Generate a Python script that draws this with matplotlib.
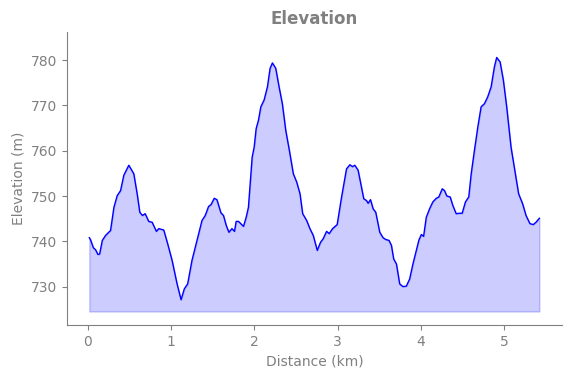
import matplotlib
matplotlib.use("Agg")
import matplotlib.pyplot as plt
import numpy as np

# distance along the route (km) and elevation (m)
distance_km = [
    0.02, 0.036, 0.068, 0.096, 0.123, 0.144, 0.176, 0.215, 0.275, 0.315,
    0.355, 0.395, 0.434, 0.494, 0.554, 0.594, 0.626, 0.658, 0.690, 0.733,
    0.774, 0.825, 0.853, 0.913, 0.961, 1.013, 1.073, 1.121, 1.160, 1.200,
    1.252, 1.312, 1.372, 1.411, 1.451, 1.480, 1.519, 1.551, 1.599, 1.630,
    1.663, 1.695, 1.731, 1.762, 1.782, 1.810, 1.870, 1.902, 1.929, 1.950,
    1.974, 1.998, 2.022, 2.049, 2.078, 2.117, 2.157, 2.189, 2.217, 2.257,
    2.297, 2.336, 2.377, 2.420, 2.468, 2.508, 2.548, 2.580, 2.628, 2.667,
    2.707, 2.755, 2.795, 2.827, 2.867, 2.898, 2.939, 2.994, 3.047, 3.106,
    3.146, 3.178, 3.206, 3.245, 3.278, 3.313, 3.346, 3.365, 3.394, 3.425,
    3.457, 3.505, 3.544, 3.577, 3.616, 3.645, 3.672, 3.705, 3.744, 3.783,
    3.824, 3.864, 3.903, 3.944, 3.975, 4.004, 4.031, 4.063, 4.103, 4.142,
    4.183, 4.214, 4.255, 4.282, 4.310, 4.350, 4.382, 4.422, 4.462, 4.494,
    4.533, 4.573, 4.602, 4.641, 4.681, 4.721, 4.761, 4.800, 4.841, 4.880,
    4.908, 4.949, 4.988, 5.028, 5.080, 5.132, 5.171, 5.219, 5.260, 5.307,
    5.347, 5.379, 5.42,
]
elevation_m = [
    740.8, 740.3, 738.6, 738.1, 737.1, 737.2, 740.2, 741.3, 742.4, 747.5,
    750.1, 751.2, 754.6, 756.8, 754.9, 750.5, 746.4, 745.7, 746.1, 744.4,
    744.2, 742.2, 742.8, 742.5, 739.4, 735.8, 730.6, 727.1, 729.5, 730.6,
    735.8, 740.2, 744.6, 745.7, 747.7, 748.1, 749.5, 749.2, 746.3, 745.7,
    743.5, 742.0, 742.8, 742.2, 744.4, 744.4, 743.3, 745.3, 747.5, 752.7,
    758.6, 760.8, 764.9, 766.7, 769.7, 771.2, 774.1, 778.2, 779.4, 778.2,
    774.1, 770.4, 764.5, 760.1, 754.9, 753.1, 750.5, 746.1, 744.6, 742.8,
    741.3, 738.0, 739.8, 740.6, 742.2, 741.7, 742.8, 743.7, 749.8, 756.0,
    756.9, 756.5, 756.8, 755.7, 752.7, 749.4, 749.0, 748.4, 749.2, 747.2,
    746.4, 742.0, 740.8, 740.4, 740.2, 739.1, 736.1, 735.0, 730.6, 730.0,
    730.1, 731.7, 735.0, 738.0, 740.3, 741.5, 741.1, 745.3, 747.2, 748.7,
    749.5, 749.8, 751.6, 751.2, 750.0, 749.8, 747.9, 746.1, 746.2, 746.2,
    748.7, 749.8, 754.9, 760.1, 765.2, 769.7, 770.4, 771.9, 774.1, 778.5,
    780.6, 779.6, 775.6, 769.7, 760.8, 754.9, 750.5, 748.3, 745.7, 743.9,
    743.7, 744.2, 745.1,
]
fill_base = 724.5

grey = "#808080"

fig = plt.figure(figsize=(5.71, 3.78), dpi=100)
ax = fig.add_axes([0.117, 0.140, 0.867, 0.775])

x = np.array(distance_km)
y = np.array(elevation_m)
ax.fill_between(x, y, fill_base, color="blue", alpha=0.2)
ax.plot(x, y, color="blue", linewidth=1)

ax.set_ylim(721.5, 786.2)
ax.set_title("Elevation", fontsize=12, fontweight="bold", color=grey)
ax.set_xlabel("Distance (km)", color=grey)
ax.set_ylabel("Elevation (m)", color=grey)

for side in ["top", "right"]:
    ax.spines[side].set_visible(False)
for side in ["left", "bottom"]:
    ax.spines[side].set_color(grey)
ax.tick_params(colors=grey, labelcolor=grey)

fig.savefig("out.png", dpi=100)
